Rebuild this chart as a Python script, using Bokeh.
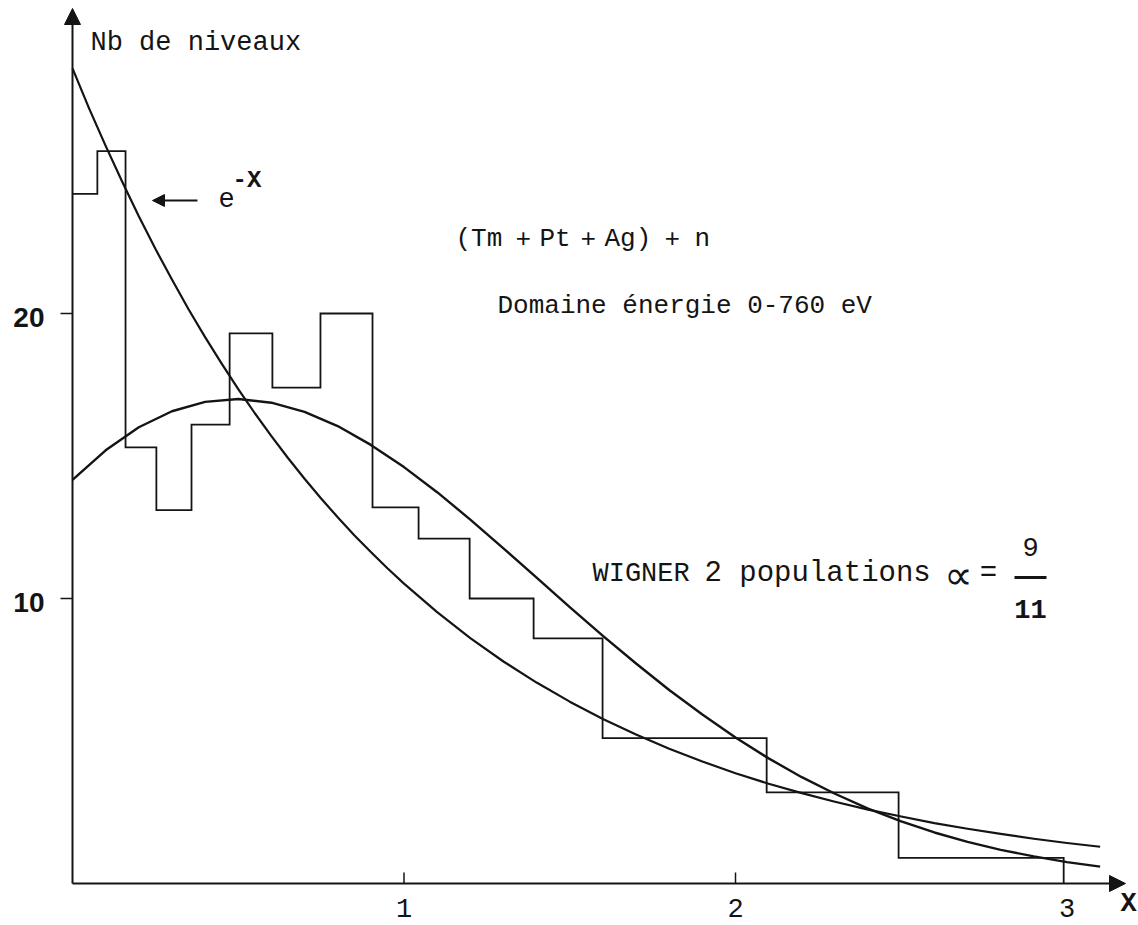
from bokeh.plotting import figure
from bokeh.models import Label, Arrow, NormalHead, Range1d
from bokeh.embed import file_html
from bokeh.resources import INLINE

# ---- histogram of reduced spacings X (bin edges are not uniform) ----
bin_edges = [0.0, 0.075, 0.16, 0.253, 0.359, 0.474, 0.603, 0.748, 0.905,
             1.044, 1.198, 1.391, 1.599, 2.094, 2.492, 2.99]
counts = [24.2, 25.7, 15.3, 13.1, 16.1, 19.3, 17.4, 20.0, 13.2,
          12.1, 10.0, 8.6, 5.1, 3.2, 0.9]

# ---- exponential (Poisson) curve e^-X ----
exp_x = [0.0, 0.05, 0.1, 0.15, 0.2, 0.25, 0.3, 0.35, 0.4, 0.45, 0.5, 0.55,
         0.6, 0.65, 0.7, 0.75, 0.8, 0.85, 0.9, 0.95, 1.0, 1.1, 1.2, 1.3, 1.4,
         1.5, 1.6, 1.7, 1.8, 1.9, 2.0, 2.1, 2.2, 2.3, 2.4, 2.5, 2.6, 2.7, 2.8,
         2.9, 3.0, 3.1]
exp_y = [28.6, 27.20, 25.88, 24.62, 23.41, 22.27, 21.19, 20.15, 19.17, 18.24,
         17.35, 16.50, 15.70, 14.93, 14.20, 13.51, 12.85, 12.22, 11.63, 11.06,
         10.52, 9.52, 8.61, 7.79, 7.05, 6.38, 5.77, 5.23, 4.73, 4.28, 3.87,
         3.50, 3.17, 2.87, 2.59, 2.35, 2.12, 1.92, 1.74, 1.57, 1.42, 1.29]

# ---- Wigner law, two superposed populations (alpha = 9/11) ----
wig_x = [0.0, 0.1, 0.2, 0.3, 0.4, 0.5, 0.6, 0.7, 0.8, 0.9, 1.0, 1.1, 1.2,
         1.3, 1.4, 1.5, 1.6, 1.7, 1.8, 1.9, 2.0, 2.1, 2.2, 2.3, 2.4, 2.5,
         2.6, 2.7, 2.8, 2.9, 3.0, 3.1]
wig_y = [14.16, 15.20, 16.01, 16.57, 16.90, 17.00, 16.87, 16.55, 16.05,
         15.39, 14.61, 13.73, 12.77, 11.76, 10.73, 9.70, 8.69, 7.72, 6.79,
         5.93, 5.12, 4.39, 3.73, 3.15, 2.63, 2.18, 1.79, 1.46, 1.18, 0.95,
         0.75, 0.59]

x_ticks = [1, 2]
x_tick_labels = ["1", "2", "3"]
x_tick_label_pos = [1, 2, 3]
y_ticks = [10, 20]
y_tick_labels = ["10", "20"]

W, H = 1138, 925
# screen geometry of the drawing: origin and scale in pixels
OX, OY = 72.0, 883.0
KX, KY = 331.5, 28.5


def dx(px):
    return (px - OX) / KX


def dy(py):
    return (OY - py) / KY


INK = "#141414"
MONO = "Liberation Mono"

p = figure(width=W, height=H,
           x_range=Range1d(dx(0), dx(W)), y_range=Range1d(dy(H), dy(0)),
           output_backend="svg", toolbar_location=None, min_border=0,
           x_axis_type=None, y_axis_type=None)
p.outline_line_color = None
p.background_fill_color = "white"
p.border_fill_color = "white"

# axes drawn as arrows through the origin
p.add_layout(Arrow(end=NormalHead(size=16, fill_color=INK, line_color=INK, line_width=1),
                   x_start=0, y_start=0, x_end=0, y_end=dy(8),
                   line_color=INK, line_width=2))
p.add_layout(Arrow(end=NormalHead(size=16, fill_color=INK, line_color=INK, line_width=1),
                   x_start=0, y_start=0, x_end=dx(1125), y_end=0,
                   line_color=INK, line_width=2))

# tick marks
p.segment(x0=x_ticks, y0=[0] * len(x_ticks), x1=x_ticks,
          y1=[dy(872)] * len(x_ticks), line_color=INK, line_width=1.5)
p.segment(x0=[dx(60)] * len(y_ticks), y0=y_ticks, x1=[0] * len(y_ticks),
          y1=y_ticks, line_color=INK, line_width=1.5)

# histogram as a stepped outline
hx, hy = [bin_edges[0]], [counts[0]]
for i, c in enumerate(counts):
    hx += [bin_edges[i], bin_edges[i + 1]]
    hy += [c, c]
hx.append(bin_edges[-1])
hy.append(0)
p.line(hx, hy, line_color=INK, line_width=1.8, line_join="miter")

# theoretical curves
p.line(exp_x, exp_y, line_color=INK, line_width=2.2, line_join="round")
p.line(wig_x, wig_y, line_color=INK, line_width=2.4, line_join="round")

# pointer to the exponential curve
p.add_layout(Arrow(end=NormalHead(size=12, fill_color=INK, line_color=INK, line_width=1),
                   x_start=dx(197), y_start=dy(200), x_end=dx(152), y_end=dy(200),
                   line_color=INK, line_width=2))


def label(text, px, py, size, font=MONO, style="normal", align="left"):
    p.add_layout(Label(x=px, y=H - py, x_units="screen", y_units="screen",
                       text=text, text_font=font, text_font_size=f"{size}px",
                       text_font_style=style, text_color=INK,
                       text_align=align, text_baseline="middle"))


label("Nb de niveaux", 90, 42, 27)
label("e", 218, 197, 27)
label("-X", 232, 180, 24, style="bold")

# reaction line, typed with narrow spacing between the terms
reaction = [("(Tm", 0), ("+", 60), ("Pt", 84), ("+", 125),
            ("Ag)", 149), ("+", 209), ("n", 239)]
for tok, off in reaction:
    label(tok, 455 + off, 238, 26)

label("Domaine énergie 0-760 eV", 497, 305, 26)
label("WIGNER", 592, 573, 27)
label("2 populations", 704, 573, 29)
label("\u221d", 958, 574, 40, font="DejaVu Sans", align="center")
label("=", 988, 573, 29, align="center")
label("9", 1030, 546, 27, align="center")
label("11", 1030, 608, 27, style="bold", align="center")
p.segment(x0=[dx(1014)], y0=[dy(577)], x1=[dx(1046)], y1=[dy(577)],
          line_color=INK, line_width=3)

# tick labels
for v, t in zip(x_tick_label_pos, x_tick_labels):
    label(t, OX + KX * v, 907, 27, align="center")
for v, t in zip(y_ticks, y_tick_labels):
    label(t, 44, OY - KY * v + 4, 28, font="Liberation Sans", style="bold", align="right")
label("X", 1128, 903, 27, style="bold", align="center")

open("out.html", "w").write(file_html(p, INLINE))
